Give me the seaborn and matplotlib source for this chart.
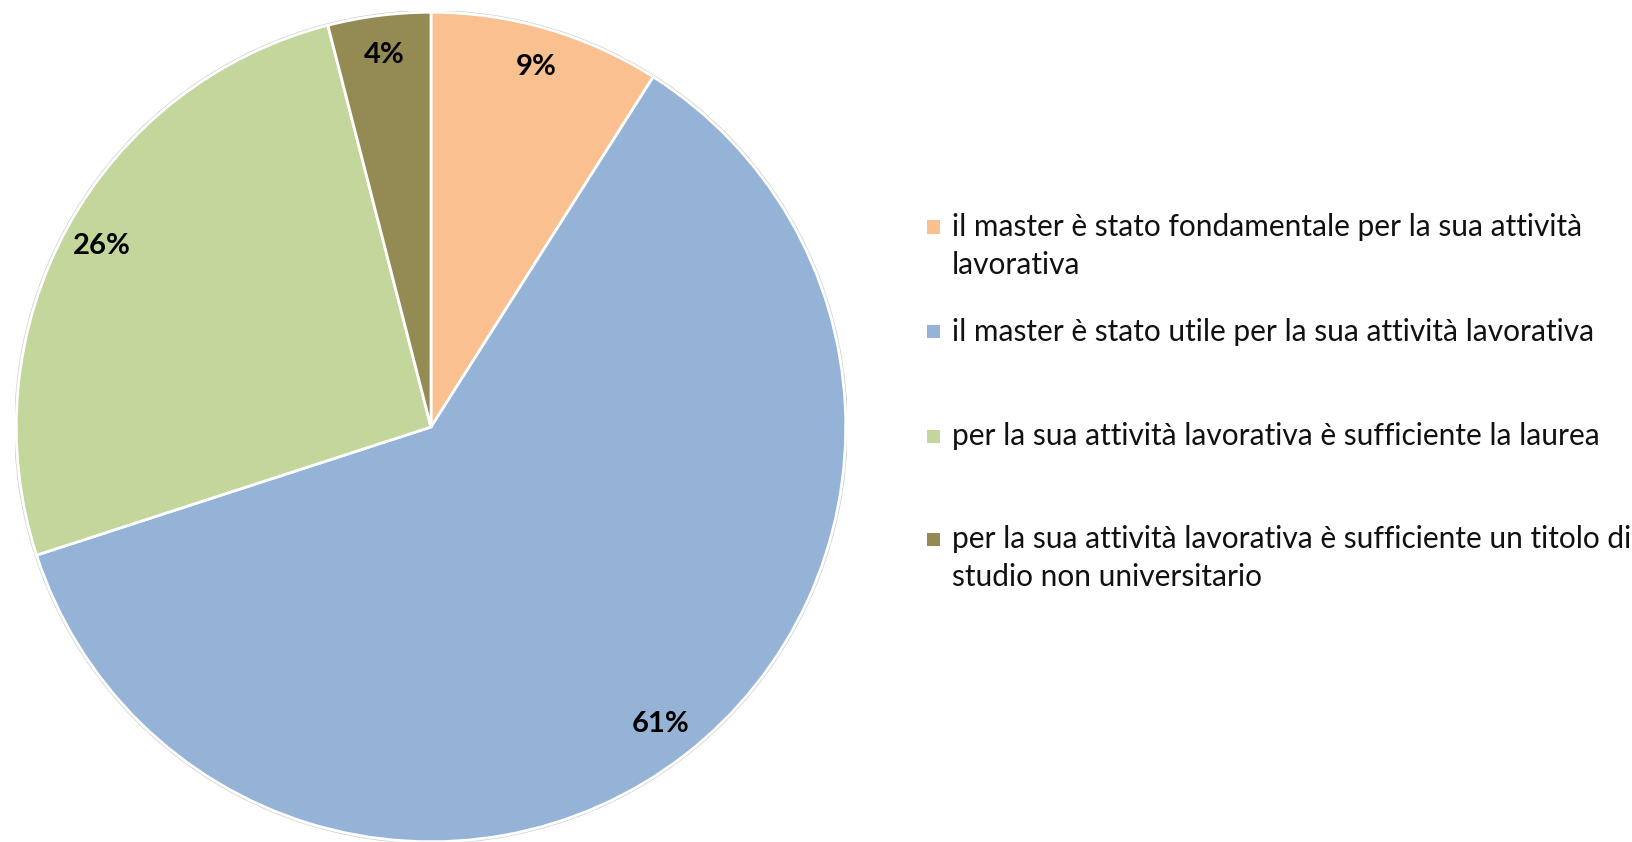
import matplotlib
matplotlib.use("Agg")
import matplotlib.pyplot as plt
import seaborn as sns
from matplotlib.patches import Rectangle, Circle

categories = [
    "il master è stato fondamentale per la sua attività\nlavorativa",
    "il master è stato utile per la sua attività lavorativa",
    "per la sua attività lavorativa è sufficiente la laurea",
    "per la sua attività lavorativa è sufficiente un titolo di\nstudio non universitario",
]
values = [9, 61, 26, 4]
pct_labels = ["9%", "61%", "26%", "4%"]
colors = ["#FAC090", "#95B3D7", "#C3D69B", "#948A54"]

sns.set_theme(style="white")
plt.rcParams["font.family"] = ["Lato", "DejaVu Sans"]

W, H = 1632, 842
fig = plt.figure(figsize=(W / 100, H / 100), dpi=100)
fig.patch.set_facecolor("white")

R = 416
cx, cy = 431, 427
ax = fig.add_axes([(cx - R) / W, (H - cy - R) / H, 2 * R / W, 2 * R / H])

wedges, texts = ax.pie(
    values,
    colors=colors,
    startangle=90,
    counterclock=False,
    radius=0.997,
    labels=pct_labels,
    labeldistance=0.905,
    wedgeprops=dict(edgecolor="white", linewidth=2),
    textprops=dict(fontsize=21, fontweight="bold", color="black",
                   ha="center", va="center"),
)
for t in texts:
    t.set_ha("center")
    t.set_va("center")
ax.add_patch(Circle((0, 0), 1.0, fill=False, edgecolor="#d0d0d0", linewidth=1.2, zorder=0))
ax.set_xlim(-1, 1)
ax.set_ylim(-1, 1)
ax.set_aspect("equal")
ax.axis("off")

# legend (manual, fixed pitch like the reference)
first_line_y = [227, 332, 436, 539]
marker_x = 927
text_x = 952
msize = 13
fs = 21.5
for lab, col, y in zip(categories, colors, first_line_y):
    fig.patches.append(Rectangle((marker_x / W, (H - y - msize / 2) / H), msize / W, msize / H,
                                 transform=fig.transFigure, facecolor=col, edgecolor="none"))
    for i, ln in enumerate(lab.split("\n")):
        fig.text(text_x / W, (H - y - 38 * i) / H, ln, fontsize=fs, color="#111111",
                 ha="left", va="center")

fig.savefig("out.png", dpi=100, facecolor="white")
